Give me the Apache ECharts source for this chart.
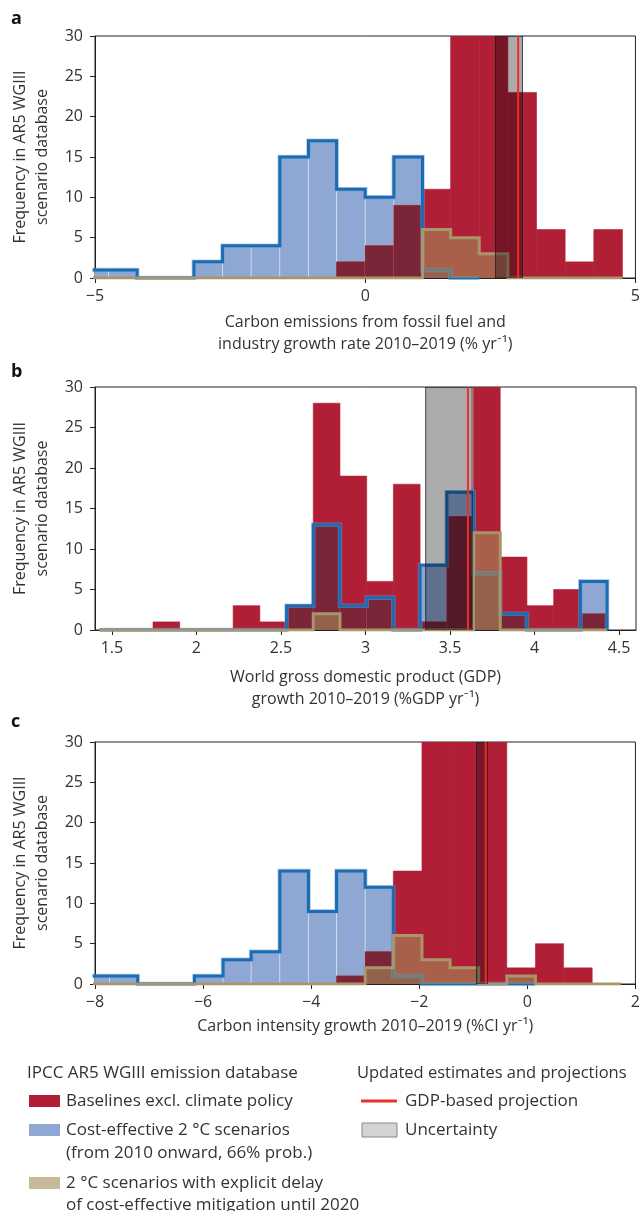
<!DOCTYPE html>
<html><head><meta charset="utf-8">
<script src="https://cdn.jsdelivr.net/npm/echarts@6/dist/echarts.min.js"></script>
<style>html,body{margin:0;padding:0;background:#fff}#c{width:643px;height:1211px}</style>
</head><body><div id="c"></div>
<script>
// ---------- DATA ----------
// Panel a: carbon emissions growth (% / yr)
const edgesA = [-5.28, -4.75, -4.22, -3.69, -3.17, -2.64, -2.11, -1.58, -1.05, -0.53, 0.00, 0.53, 1.06, 1.58, 2.11, 2.64, 3.17, 3.70, 4.23, 4.76];
const baselineA = [0, 0, 0, 0, 0, 0, 0, 0, 0, 2, 4, 9, 11, 40, 40, 23, 6, 2, 6];
const costEffA  = [1, 1, 0, 0, 2, 4, 4, 15, 17, 11, 10, 15, 1, 0];
const delayA    = [0, 0, 0, 0, 0, 0, 0, 0, 0, 0, 0, 0, 6, 5, 3, 0, 0, 0, 0];
const projA = 2.83;
const bandA = [2.41, 2.91];

// Panel b: world GDP growth (%GDP / yr)
const edgesB = [1.427, 1.585, 1.743, 1.901, 2.059, 2.217, 2.375, 2.533, 2.691, 2.849, 3.007, 3.165, 3.323, 3.481, 3.639, 3.797, 3.955, 4.113, 4.271, 4.429];
const baselineB = [0, 0, 1, 0, 0, 3, 1, 3, 28, 19, 6, 18, 1, 14, 40, 9, 3, 5, 2];
const costEffB  = [0, 0, 0, 0, 0, 0, 0, 3, 13, 3, 4, 0, 8, 17, 7, 2, 0, 0, 6];
const delayB    = [0, 0, 0, 0, 0, 0, 0, 0, 2, 0, 0, 0, 0, 0, 12, 0, 0, 0, 0];
const projB = 3.606;
const bandB = [3.356, 3.631];
const ticksB = [1.5, 2, 2.5, 3, 3.5, 4, 4.5];

// Panel c: carbon intensity growth (%CI / yr)
const edgesC = [-8.26, -7.73, -7.21, -6.68, -6.16, -5.63, -5.11, -4.58, -4.05, -3.53, -3.00, -2.48, -1.95, -1.43, -0.90, -0.38, 0.15, 0.67, 1.20, 1.73];
const baselineC = [0, 0, 0, 0, 0, 0, 0, 0, 0, 1, 4, 14, 40, 40, 40, 2, 5, 2, 0];
const costEffC  = [1, 1, 0, 0, 1, 3, 4, 14, 9, 14, 12, 1, 0, 0, 0, 0];
const delayC    = [0, 0, 0, 0, 0, 0, 0, 0, 0, 0, 2, 6, 3, 2, 0, 1, 0, 0, 0];
const projC = -0.77;
const bandC = [-0.94, -0.74];

// ---------- STYLE ----------
const FONT = '"Open Sans", Lato, sans-serif';
const TXT = '#333';
const RED = '#b01f35', BLUE = '#8fa8d3', MAROON = '#7b2538';
const BLUE_LINE = '#1c6cb4', TAN_LINE = '#a8956a', TAN_FILL = 'rgba(165,140,90,0.6)';
const PROJ = '#ec2f27';

const grids = [
  {left: 95, top: 36, width: 541, height: 242},
  {left: 95, top: 387, width: 541, height: 243},
  {left: 95, top: 742, width: 541, height: 242}
];

function minus(v){ return String(v).replace('-', '\u2212'); }

function binRows(edges, red, blue){
  const rows = [];
  for (let i = 0; i < edges.length - 1; i++) {
    rows.push([edges[i], edges[i+1], red[i] || 0, blue[i] || 0]);
  }
  return rows;
}
function tanRows(edges, tan){
  const rows = [];
  for (let i = 0; i < tan.length; i++) rows.push([edges[i], edges[i+1], tan[i]]);
  return rows;
}
function outline(edges, counts){
  const pts = [[edges[0], 0]];
  for (let i = 0; i < counts.length; i++) {
    pts.push([edges[i], counts[i]]);
    pts.push([edges[i+1], counts[i]]);
  }
  pts.push([edges[counts.length], 0]);
  return pts;
}
function rectBetween(api, x0, x1, y0, y1, style){
  const p0 = api.coord([x0, y1]);
  const p1 = api.coord([x1, y0]);
  return {type: 'rect', shape: {x: p0[0], y: p0[1], width: p1[0] - p0[0], height: p1[1] - p0[1]}, style: style};
}
function renderBars(params, api){
  const x0 = api.value(0), x1 = api.value(1), r = api.value(2), b = api.value(3);
  const ch = [];
  if (b > 0) ch.push(rectBetween(api, x0, x1, 0, b, {fill: BLUE, stroke: 'rgba(255,255,255,0.35)', lineWidth: 1}));
  if (r > 0) ch.push(rectBetween(api, x0, x1, 0, r, {fill: RED, stroke: RED, lineWidth: 0.6}));
  const m = Math.min(r, b);
  if (m > 0) ch.push(rectBetween(api, x0, x1, 0, m, {fill: MAROON}));
  return {type: 'group', children: ch};
}
function renderTan(params, api){
  const t = api.value(2);
  if (!(t > 0)) return {type: 'group', children: []};
  return rectBetween(api, api.value(0), api.value(1), 0, t, {fill: TAN_FILL});
}
function renderBand(params, api){
  // translucent dark overlay: darkens whatever lies beneath (white -> light grey, red -> dark red)
  return rectBetween(api, api.value(0), api.value(1), 0, 30,
    {fill: 'rgba(2,2,8,0.335)', stroke: 'rgba(30,30,30,0.8)', lineWidth: 1});
}

const panels = [
  {edges: edgesA, red: baselineA, blue: costEffA, tan: delayA, proj: projA, band: bandA},
  {edges: edgesB, red: baselineB, blue: costEffB, tan: delayB, proj: projB, band: bandB},
  {edges: edgesC, red: baselineC, blue: costEffC, tan: delayC, proj: projC, band: bandC}
];

const series = [];
panels.forEach((p, i) => {
  series.push({type: 'custom', name: 'Baselines / cost-effective', xAxisIndex: i, yAxisIndex: i, clip: true,
    renderItem: renderBars, data: binRows(p.edges, p.red, p.blue), z: 2, silent: true});
  series.push({type: 'line', name: 'Cost-effective outline halo', xAxisIndex: i, yAxisIndex: i, clip: true,
    data: outline(p.edges, p.blue), symbol: 'none', lineStyle: {color: 'rgba(110,160,215,0.5)', width: 4.6, join: 'miter'}, z: 3, silent: true});
  series.push({type: 'line', name: 'Cost-effective outline', xAxisIndex: i, yAxisIndex: i, clip: true,
    data: outline(p.edges, p.blue), symbol: 'none', lineStyle: {color: BLUE_LINE, width: 3, join: 'miter'}, z: 3, silent: true});
  series.push({type: 'custom', name: 'Delay fill', xAxisIndex: i, yAxisIndex: i, clip: true,
    renderItem: renderTan, data: tanRows(p.edges, p.tan), z: 4, silent: true});
  series.push({type: 'line', name: 'Delay outline', xAxisIndex: i, yAxisIndex: i, clip: true,
    data: outline(p.edges, p.tan), symbol: 'none', lineStyle: {color: TAN_LINE, width: 3, join: 'miter'}, z: 5, silent: true});
  series.push({type: 'custom', name: 'Uncertainty', xAxisIndex: i, yAxisIndex: i, clip: true,
    renderItem: renderBand, data: [[p.band[0], p.band[1]]], z: 6, silent: true});
  series.push({type: 'line', name: 'GDP-based projection', xAxisIndex: i, yAxisIndex: i, clip: true,
    data: [[p.proj, 0], [p.proj, 30]], symbol: 'none', lineStyle: {color: PROJ, width: 2}, z: 7, silent: true});
});

const axisBase = {
  type: 'value',
  axisLine: {show: true, onZero: false, lineStyle: {color: '#222', width: 1}},
  axisTick: {show: true, inside: false, length: 5, lineStyle: {color: '#222'}},
  axisLabel: {color: TXT, fontSize: 16, fontFamily: FONT, formatter: minus},
  splitLine: {show: false},
  nameLocation: 'middle',
  nameTextStyle: {color: TXT, fontSize: 16, fontFamily: FONT, lineHeight: 22}
};

const xAxes = [
  Object.assign({}, axisBase, {gridIndex: 0, min: -5, max: 5, interval: 5, nameGap: 33,
    axisLabel: Object.assign({}, axisBase.axisLabel, {margin: 10}),
    name: 'Carbon emissions from fossil fuel and\nindustry growth rate 2010\u20132019 (% yr\u207B\u00B9)'}),
  Object.assign({}, axisBase, {gridIndex: 1, min: 1.4, max: 4.6, nameGap: 36,
    axisTick: Object.assign({}, axisBase.axisTick, {customValues: ticksB}),
    axisLabel: Object.assign({}, axisBase.axisLabel, {margin: 10, customValues: ticksB}),
    name: 'World gross domestic product (GDP)\ngrowth 2010\u20132019 (%GDP yr\u207B\u00B9)'}),
  Object.assign({}, axisBase, {gridIndex: 2, min: -8, max: 2, interval: 2, nameGap: 31,
    axisLabel: Object.assign({}, axisBase.axisLabel, {margin: 10}),
    name: 'Carbon intensity growth 2010\u20132019 (%CI yr\u207B\u00B9)'})
];
const yAxes = [0, 1, 2].map(i => Object.assign({}, axisBase, {
  gridIndex: i, min: 0, max: 30, interval: 5, nameGap: 40,
  axisLabel: Object.assign({}, axisBase.axisLabel, {margin: 12}),
  name: 'Frequency in AR5 WGIII\nscenario database'
}));

const LEG_FONT = '17px ' + FONT;
function txt(x, y, s, font){
  return {type: 'text', x: x, y: y, silent: true,
    style: {text: s, fill: TXT, font: font || LEG_FONT, verticalAlign: 'middle', textVerticalAlign: 'middle'}};
}
function letter(x, y, s){
  return {type: 'text', x: x, y: y, silent: true,
    style: {text: s, fill: '#111', font: 'bold 18px ' + FONT, verticalAlign: 'middle', textVerticalAlign: 'middle'}};
}
const graphics = [
  letter(11, 19, 'a'), letter(11, 372, 'b'), letter(11, 722, 'c'),
  txt(27, 1073, 'IPCC AR5 WGIII emission database'),
  {type: 'rect', shape: {x: 29, y: 1095, width: 31, height: 12}, style: {fill: RED}, silent: true},
  txt(66, 1101, 'Baselines excl. climate policy'),
  {type: 'rect', shape: {x: 29, y: 1124, width: 31, height: 12}, style: {fill: BLUE}, silent: true},
  txt(66, 1130, 'Cost-effective 2 \u00B0C scenarios'),
  txt(66, 1153, '(from 2010 onward, 66% prob.)'),
  {type: 'rect', shape: {x: 29, y: 1177, width: 31, height: 12}, style: {fill: '#c8b99b'}, silent: true},
  txt(66, 1183, '2 \u00B0C scenarios with explicit delay'),
  txt(66, 1205, 'of cost-effective mitigation until 2020'),
  txt(357, 1073, 'Updated estimates and projections', '16.5px ' + FONT),
  {type: 'line', shape: {x1: 361, y1: 1101, x2: 397, y2: 1101}, style: {stroke: PROJ, lineWidth: 3}, silent: true},
  txt(405, 1101, 'GDP-based projection'),
  {type: 'rect', shape: {x: 362, y: 1123, width: 35, height: 14}, style: {fill: '#d3d4d6', stroke: '#888', lineWidth: 1}, silent: true},
  txt(405, 1130, 'Uncertainty')
];

const chart = echarts.init(document.getElementById('c'), null, {renderer: 'canvas'});
chart.setOption({
  animation: false,
  backgroundColor: '#fff',
  textStyle: {fontFamily: FONT},
  grid: grids.map(g => Object.assign({show: true, borderColor: '#222', borderWidth: 1, backgroundColor: 'transparent'}, g)),
  xAxis: xAxes,
  yAxis: yAxes,
  series: series,
  graphic: graphics
});
</script>
</body></html>
